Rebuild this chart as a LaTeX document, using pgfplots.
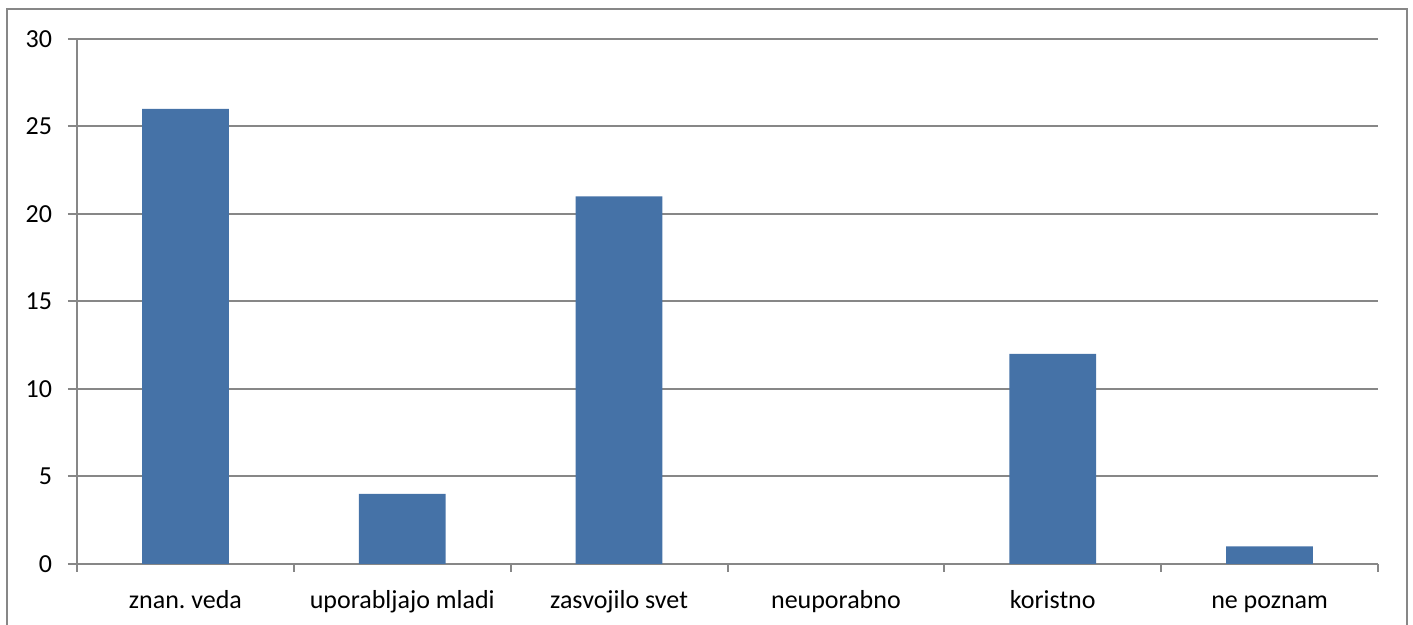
\documentclass[border=0pt]{standalone}
\usepackage{pgfplots}
\pgfplotsset{compat=1.18}
\usepackage{fontspec}
\setmainfont{Carlito}
\definecolor{barblue}{HTML}{4572A7}
\definecolor{gridgray}{HTML}{878787}
\begin{document}
\begin{tikzpicture}
\path[use as bounding box] (0,0) rectangle (706.5bp,312.5bp);
\draw[gridgray, line width=0.8bp] (3.5bp,-5bp) -- (3.5bp,308bp) -- (703.5bp,308bp) -- (703.5bp,-5bp);
\begin{axis}[
    at={(38.5bp,30.5bp)}, anchor=south west,
    scale only axis,
    width=650.5bp, height=262.5bp,
    ybar, bar width=0.4,
    xmin=-0.5, xmax=5.5,
    ymin=0, ymax=30,
    ytick={0,5,...,30},
    xtick={0,...,5},
    xticklabels={znan.\ veda,uporabljajo mladi,zasvojilo svet,neuporabno,koristno,ne poznam},
    minor xtick={-0.5,0.5,...,5.5},
    axis x line*=bottom, axis y line*=left,
    axis line style={gridgray, line width=1bp},
    ymajorgrids,
    grid style={gridgray, line width=1bp},
    tick align=outside,
    major tick length=4.5bp,
    minor tick length=4bp,
    xtick style={draw=none},
    minor x tick style={draw=gridgray, line width=1bp},
    ytick style={gridgray, line width=1bp},
    /pgf/number format/assume math mode=true,
    tick label style={font=\fontsize{13bp}{15bp}\selectfont, black},
    xticklabel style={yshift=-5bp, text height=9bp, text depth=3bp},
    yticklabel style={xshift=-4.5bp},
]
\addplot[fill=barblue, draw=none] coordinates {(0,26) (1,4) (2,21) (3,0) (4,12) (5,1)};
\end{axis}
\end{tikzpicture}
\end{document}
